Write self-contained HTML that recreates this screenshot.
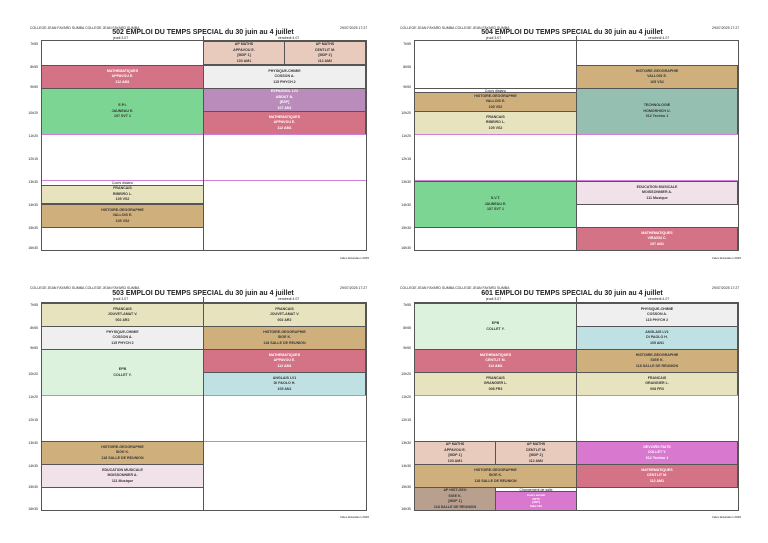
<!DOCTYPE html>
<html><head><meta charset="utf-8"><style>
*{margin:0;padding:0;box-sizing:border-box}
body{width:768px;height:543px;background:#fff;position:relative;overflow:hidden;font-family:"Liberation Sans",sans-serif;color:#222}
.a{position:absolute}
.g{position:absolute;border:1px solid #555;}
.v{position:absolute;width:1px;background:#555}
.b{position:absolute;border:1px solid #555;display:flex;align-items:center;justify-content:center;text-align:center;font-size:3.6px;line-height:5.5px;font-weight:bold;color:#333}
.w{color:#fff}
.pl{position:absolute;height:1px;background:#d080d8}
.t{position:absolute;font-size:7px;font-weight:bold;white-space:nowrap;transform:translateX(-50%)}
.h{position:absolute;font-size:3.5px;white-space:nowrap}
.tm{position:absolute;font-size:3.5px;width:10px;text-align:right}
.c{position:absolute;font-size:3.5px;text-align:center;border-bottom:1px solid #555;line-height:4px}
.M{background:#d57386}.G{background:#7cd592}.LG{background:#dcf2dc}.F{background:#e8e3bf}.H{background:#cfb07c}.P{background:#b98cbb}.Y{background:#efefef}.AP{background:#e8cbbd}.A{background:#c0e1e4}.T{background:#95bfb1}.E{background:#f1e1e9}.D{background:#d878cf}.B{background:#b9a08e}
</style></head><body>

<!-- Q1 -->
<div class="h" style="left:30px;top:26px">COLLEGE JEAN FAYARD SUMBA COLLEGE JEAN FAYARD SUMBA</div>
<div class="h" style="left:340px;top:26px">29/07/2025 17:27</div>
<div class="t" style="left:203px;top:29px">502 EMPLOI DU TEMPS SPECIAL du 30 juin au 4 juillet</div>
<div class="h" style="left:113px;top:36px">jeudi 3.07</div><div class="h" style="left:278px;top:36px">vendredi 4.07</div>
<div class="a" style="left:41px;top:40px;width:325px;height:1px;background:#555"></div>
<div class="b AP" style="left:203px;top:41px;width:82px;height:24px">AP MATHS<br>APPAVOU E.<br>[MDP 1]<br>103 AM1</div>
<div class="b AP" style="left:284px;top:41px;width:82px;height:24px">AP MATHS<br>CENTLIT M.<br>[MDP 2]<br>112 AM2</div>
<div class="b M w" style="left:41px;top:65px;width:163px;height:24px">MATHEMATIQUES<br>APPAVOU E.<br>112 AM1</div>
<div class="b Y" style="left:203px;top:65px;width:163px;height:24px">PHYSIQUE-CHIMIE<br>COSSON A.<br>115 PHYCH 2</div>
<div class="b G" style="left:41px;top:88px;width:163px;height:47px">E.P.I.<br>JAUNEAU E.<br>107 SVT 1</div>
<div class="b P w" style="left:203px;top:88px;width:163px;height:24px">ESPAGNOL LV2<br>ABOUT N.<br>[ESP]<br>107 AN1</div>
<div class="b M w" style="left:203px;top:111px;width:163px;height:24px">MATHEMATIQUES<br>APPAVOU E.<br>112 AM1</div>
<div class="pl" style="left:41px;top:134px;width:325px"></div>
<div class="pl" style="left:41px;top:180px;width:325px"></div>
<div class="c" style="left:41px;top:181px;width:163px">Cours distanc</div>
<div class="b F" style="left:41px;top:185px;width:163px;height:19px">FRANCAIS<br>RIBEIRO L.<br>105 VS2</div>
<div class="b H" style="left:41px;top:204px;width:163px;height:24px">HISTOIRE-GEOGRAPHIE<br>VALLOIS E.<br>105 VS2</div>
<div class="g" style="left:41px;top:40px;width:326px;height:211px;border-top:none"></div>
<div class="v" style="left:203px;top:36px;height:215px"></div>
<div class="tm" style="left:28px;top:42px">7h55</div><div class="tm" style="left:28px;top:65px">8h55</div><div class="tm" style="left:28px;top:85px">9h50</div><div class="tm" style="left:28px;top:111px">10h20</div><div class="tm" style="left:28px;top:134px">11h20</div><div class="tm" style="left:28px;top:157px">12h15</div><div class="tm" style="left:28px;top:180px">13h30</div><div class="tm" style="left:28px;top:203px">14h30</div><div class="tm" style="left:28px;top:226px">15h30</div><div class="tm" style="left:28px;top:246px">16h30</div>
<div class="h" style="left:340px;top:256px;font-size:3px">Index Education 2025</div>

<!-- Q2 -->
<div class="h" style="left:400px;top:26px">COLLEGE JEAN FAYARD SUMBA COLLEGE JEAN FAYARD SUMBA</div>
<div class="h" style="left:712px;top:26px">29/07/2025 17:27</div>
<div class="t" style="left:572px;top:29px">504 EMPLOI DU TEMPS SPECIAL du 30 juin au 4 juillet</div>
<div class="h" style="left:486px;top:36px">jeudi 3.07</div><div class="h" style="left:648px;top:36px">vendredi 4.07</div>
<div class="a" style="left:414px;top:40px;width:324px;height:1px;background:#555"></div>
<div class="b H" style="left:576px;top:65px;width:162px;height:24px">HISTOIRE-GEOGRAPHIE<br>VALLOIS E.<br>105 VS2</div>
<div class="c" style="left:414px;top:88px;width:163px;border-top:1px solid #555">Cours distanc</div>
<div class="b H" style="left:414px;top:92px;width:163px;height:20px">HISTOIRE-GEOGRAPHIE<br>VALLOIS E.<br>105 VS2</div>
<div class="b F" style="left:414px;top:111px;width:163px;height:24px">FRANCAIS<br>RIBEIRO L.<br>105 VS2</div>
<div class="b T" style="left:576px;top:88px;width:162px;height:47px">TECHNOLOGIE<br>HOMORHICH U.<br>012 Techno 1</div>
<div class="pl" style="left:414px;top:134px;width:324px"></div>
<div class="pl" style="left:414px;top:180px;width:324px"></div>
<div class="b G" style="left:414px;top:181px;width:163px;height:47px">S.V.T.<br>JAUNEAU E.<br>107 SVT 1</div>
<div class="b E" style="left:576px;top:181px;width:162px;height:24px">EDUCATION MUSICALE<br>MOISSONNIER A.<br>111 Musique</div>
<div class="b M w" style="left:576px;top:227px;width:162px;height:24px">MATHEMATIQUES<br>VIRASSI C.<br>107 AN1</div>
<div class="g" style="left:414px;top:40px;width:325px;height:211px;border-top:none"></div>
<div class="v" style="left:576px;top:36px;height:215px"></div>
<div class="tm" style="left:401px;top:42px">7h55</div><div class="tm" style="left:401px;top:65px">8h55</div><div class="tm" style="left:401px;top:85px">9h50</div><div class="tm" style="left:401px;top:111px">10h20</div><div class="tm" style="left:401px;top:134px">11h20</div><div class="tm" style="left:401px;top:157px">12h15</div><div class="tm" style="left:401px;top:180px">13h30</div><div class="tm" style="left:401px;top:203px">14h30</div><div class="tm" style="left:401px;top:226px">15h30</div><div class="tm" style="left:401px;top:246px">16h30</div>
<div class="h" style="left:712px;top:256px;font-size:3px">Index Education 2025</div>

<!-- Q3 -->
<div class="h" style="left:30px;top:286px">COLLEGE JEAN FAYARD SUMBA COLLEGE JEAN FAYARD SUMBA</div>
<div class="h" style="left:340px;top:286px">29/07/2025 17:27</div>
<div class="t" style="left:203px;top:290px">503 EMPLOI DU TEMPS SPECIAL du 30 juin au 4 juillet</div>
<div class="h" style="left:113px;top:297px">jeudi 3.07</div><div class="h" style="left:278px;top:297px">vendredi 4.07</div>
<div class="a" style="left:41px;top:302px;width:325px;height:1px;background:#555"></div>
<div class="b F" style="left:41px;top:303px;width:163px;height:24px">FRANCAIS<br>JOUVET-AMAT V.<br>002 AR2</div>
<div class="b F" style="left:203px;top:303px;width:163px;height:24px">FRANCAIS<br>JOUVET-AMAT V.<br>002 AR2</div>
<div class="b Y" style="left:41px;top:326px;width:163px;height:24px">PHYSIQUE-CHIMIE<br>COSSON A.<br>115 PHYCH 2</div>
<div class="b H" style="left:203px;top:326px;width:163px;height:24px">HISTOIRE-GEOGRAPHIE<br>SIGE K.<br>118 SALLE DE REUNION</div>
<div class="b LG" style="left:41px;top:349px;width:163px;height:47px">EPB<br>COLLET Y.</div>
<div class="b M w" style="left:203px;top:349px;width:163px;height:24px">MATHEMATIQUES<br>APPAVOU E.<br>112 AM1</div>
<div class="b A" style="left:203px;top:372px;width:163px;height:24px">ANGLAIS LV1<br>DI PAOLO H.<br>105 AN1</div>
<div class="pl" style="left:41px;top:395px;width:325px"></div>
<div class="pl" style="left:41px;top:441px;width:325px"></div>
<div class="b H" style="left:41px;top:441px;width:163px;height:24px">HISTOIRE-GEOGRAPHIE<br>SIGE K.<br>118 SALLE DE REUNION</div>
<div class="b E" style="left:41px;top:464px;width:163px;height:24px">EDUCATION MUSICALE<br>MOISSONNIER A.<br>111 Musique</div>
<div class="g" style="left:41px;top:302px;width:326px;height:209px;border-top:none"></div>
<div class="v" style="left:203px;top:297px;height:214px"></div>
<div class="tm" style="left:28px;top:303px">7h55</div><div class="tm" style="left:28px;top:326px">8h55</div><div class="tm" style="left:28px;top:346px">9h50</div><div class="tm" style="left:28px;top:372px">10h20</div><div class="tm" style="left:28px;top:395px">11h20</div><div class="tm" style="left:28px;top:418px">12h15</div><div class="tm" style="left:28px;top:441px">13h30</div><div class="tm" style="left:28px;top:464px">14h30</div><div class="tm" style="left:28px;top:485px">15h30</div><div class="tm" style="left:28px;top:507px">16h30</div>
<div class="h" style="left:340px;top:515px;font-size:3px">Index Education 2025</div>

<!-- Q4 -->
<div class="h" style="left:400px;top:286px">COLLEGE JEAN FAYARD SUMBA COLLEGE JEAN FAYARD SUMBA</div>
<div class="h" style="left:712px;top:286px">29/07/2025 17:27</div>
<div class="t" style="left:572px;top:290px">601 EMPLOI DU TEMPS SPECIAL du 30 juin au 4 juillet</div>
<div class="h" style="left:486px;top:297px">jeudi 3.07</div><div class="h" style="left:648px;top:297px">vendredi 4.07</div>
<div class="a" style="left:414px;top:302px;width:324px;height:1px;background:#555"></div>
<div class="b LG" style="left:414px;top:303px;width:163px;height:47px">EPB<br>COLLET Y.</div>
<div class="b Y" style="left:576px;top:303px;width:162px;height:24px">PHYSIQUE-CHIMIE<br>COSSON A.<br>115 PHYCH 2</div>
<div class="b A" style="left:576px;top:326px;width:162px;height:24px">ANGLAIS LV1<br>DI PAOLO H.<br>105 AN1</div>
<div class="b M w" style="left:414px;top:349px;width:163px;height:24px">MATHEMATIQUES<br>CENTLIT M.<br>112 AM1</div>
<div class="b H" style="left:576px;top:349px;width:162px;height:24px">HISTOIRE-GEOGRAPHIE<br>SIGE K.<br>118 SALLE DE REUNION</div>
<div class="b F" style="left:414px;top:372px;width:163px;height:24px">FRANCAIS<br>GRANGIER L.<br>008 FR3</div>
<div class="b F" style="left:576px;top:372px;width:162px;height:24px">FRANCAIS<br>GRANGIER L.<br>008 FR3</div>
<div class="pl" style="left:414px;top:395px;width:324px"></div>
<div class="pl" style="left:414px;top:441px;width:324px"></div>
<div class="b AP" style="left:414px;top:441px;width:82px;height:24px">AP MATHS<br>APPAVOU E.<br>[MDP 1]<br>103 AM1</div>
<div class="b AP" style="left:495px;top:441px;width:82px;height:24px">AP MATHS<br>CENTLIT M.<br>[MDP 2]<br>112 AM2</div>
<div class="b D w" style="left:576px;top:441px;width:162px;height:24px">DEVOIRS FAITS<br>COLLET Y.<br>012 Techno 1</div>
<div class="b H" style="left:414px;top:464px;width:163px;height:24px">HISTOIRE-GEOGRAPHIE<br>SIGE K.<br>118 SALLE DE REUNION</div>
<div class="b M w" style="left:576px;top:464px;width:162px;height:24px">MATHEMATIQUES<br>CENTLIT M.<br>112 AM1</div>
<div class="b B" style="left:414px;top:487px;width:82px;height:24px">AP HIST-GEO<br>SIGE K.<br>[MDP 1]<br>118 SALLE DE REUNION</div>
<div class="c" style="left:495px;top:487px;width:82px;border-top:1px solid #555">Changement de salle</div>
<div class="b D w" style="left:495px;top:491px;width:82px;height:20px;font-size:2.8px;line-height:3.5px">Cours annulé<br>ARTS<br>[ART]<br>Salle 004</div>
<div class="g" style="left:414px;top:302px;width:325px;height:209px;border-top:none"></div>
<div class="v" style="left:576px;top:297px;height:214px"></div>
<div class="tm" style="left:401px;top:303px">7h55</div><div class="tm" style="left:401px;top:326px">8h55</div><div class="tm" style="left:401px;top:346px">9h50</div><div class="tm" style="left:401px;top:372px">10h20</div><div class="tm" style="left:401px;top:395px">11h20</div><div class="tm" style="left:401px;top:418px">12h15</div><div class="tm" style="left:401px;top:441px">13h30</div><div class="tm" style="left:401px;top:464px">14h30</div><div class="tm" style="left:401px;top:485px">15h30</div><div class="tm" style="left:401px;top:507px">16h30</div>
<div class="h" style="left:712px;top:515px;font-size:3px">Index Education 2025</div>
</body></html>
